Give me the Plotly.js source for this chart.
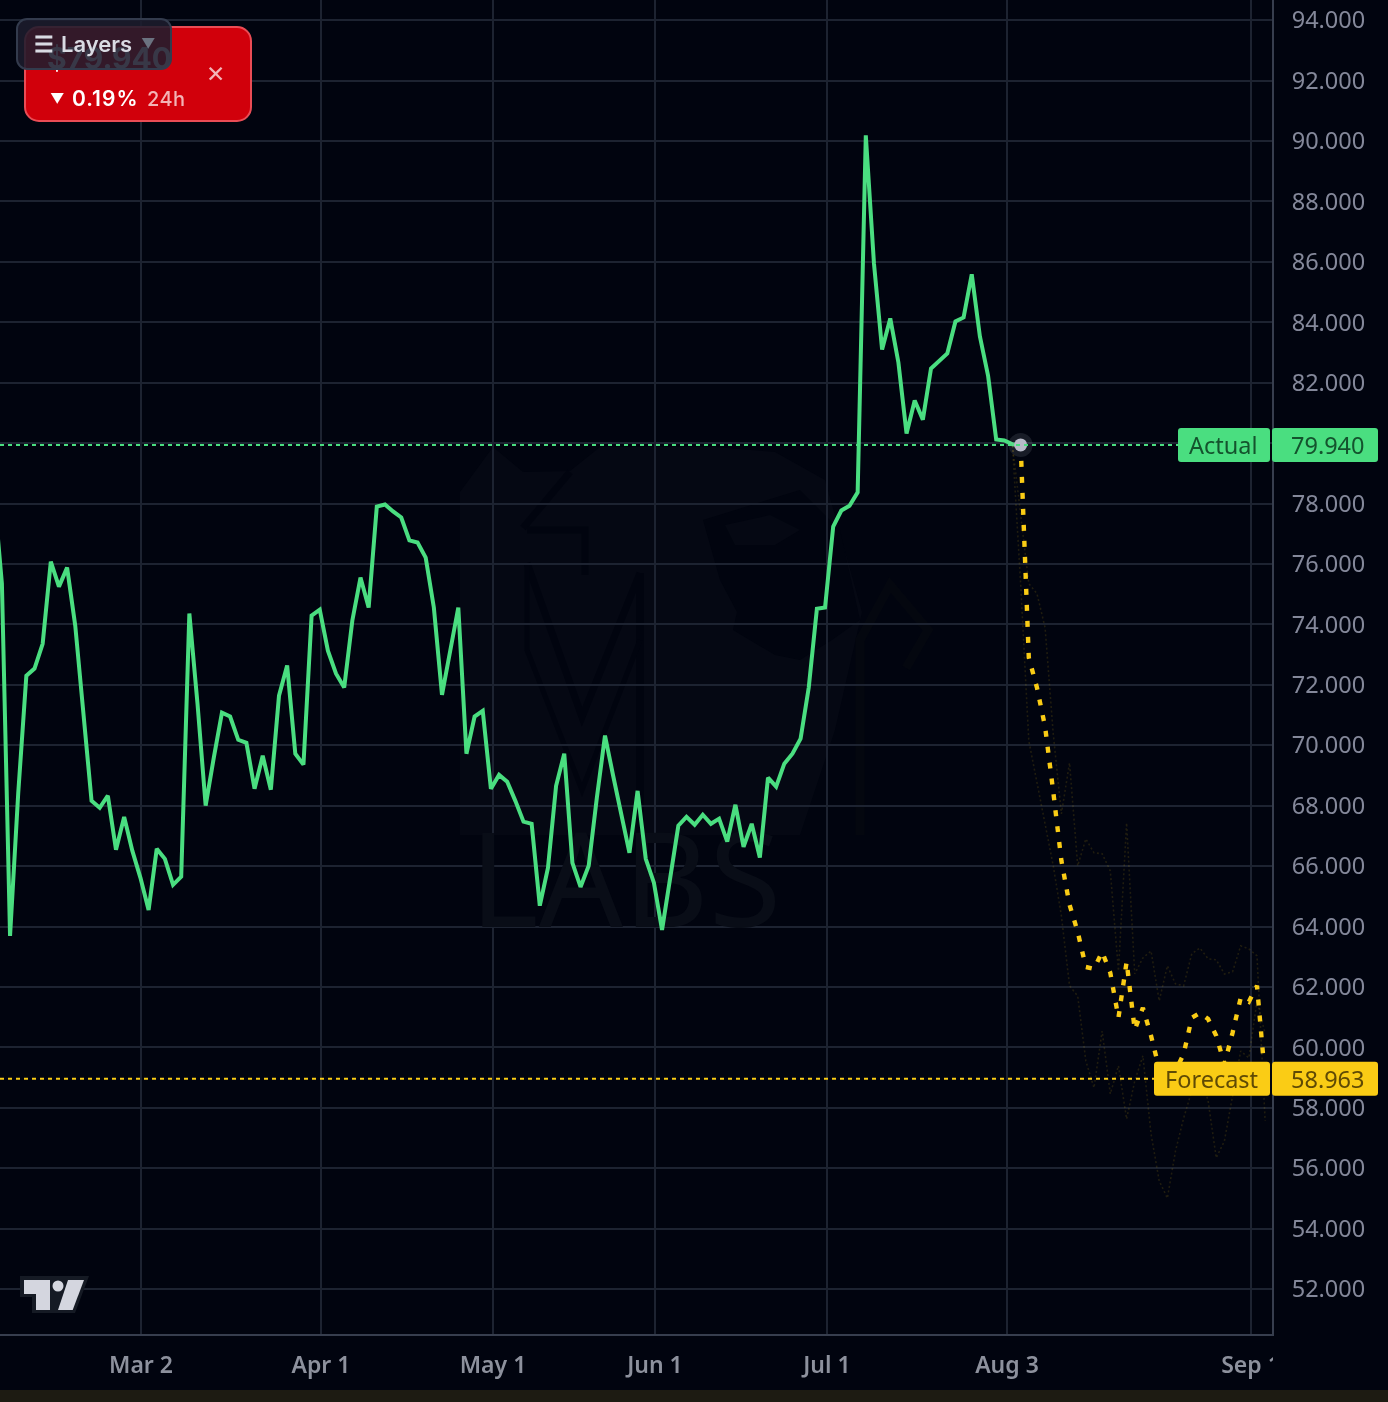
<!DOCTYPE html>
<html><head><meta charset="utf-8">
<script src="https://cdn.plot.ly/plotly-3.0.1.min.js"></script>
<style>
html,body{margin:0;padding:0;background:#01040f;width:1388px;height:1402px;overflow:hidden}
#wrap{position:relative;width:1388px;height:1402px;filter:blur(0.55px)}
#chart{position:absolute;left:0;top:0;width:1388px;height:1402px}
.card{position:absolute;left:24px;top:26px;width:224px;height:92px;background:#d1000b;border:2px solid #ea4c55;border-radius:15px;font-family:Inter,sans-serif;color:#fff;overflow:hidden}
.price{position:absolute;left:21px;top:12px;font-size:30px;font-weight:700;line-height:36px}
.tri{position:absolute;left:24px;top:61px;font-size:14px;line-height:20px;font-weight:600}
.chg{position:absolute;left:46px;top:58px;font-size:21px;font-weight:600;line-height:26px;letter-spacing:1px;white-space:pre}
.h{position:absolute;left:121px;top:58px;font-size:20px;line-height:26px;letter-spacing:.4px;color:#f3b3b6;font-weight:500}
.x{position:absolute;left:180px;top:32px;font-size:23px;line-height:28px;color:#f2b5b8;font-weight:400}
.menu{position:absolute;left:16px;top:18px;width:152px;height:48px;background:rgba(28,28,45,.88);border:2px solid #333b4d;border-radius:11px;font-family:Inter,sans-serif;font-size:22px;font-weight:600;line-height:48px;color:#d9dbe3;white-space:pre}
.menu b{position:absolute;left:16px;top:0;font-weight:600}
.menu i{position:absolute;left:43px;top:0;font-style:normal}
.menu u{position:absolute;left:123px;top:0;text-decoration:none;color:#6b7280;font-size:14px}
svg.tv{position:absolute;left:0;top:1260px;width:100px;height:60px}
</style></head><body>
<div id="wrap">
<div id="chart"></div>
<svg class="tv" viewBox="0 1260 100 60">
<polygon points="20,1276 89,1276 75,1313 32,1313 32,1297 20,1297" fill="#151a24"/>
<polygon points="24,1280 50,1280 50,1310 36,1310 36,1294 24,1294" fill="#d4d6df"/>
<circle cx="58" cy="1286" r="5.5" fill="#d4d6df"/>
<polygon points="68,1280 84,1280 72.7,1310 58,1310" fill="#d4d6df"/>
</svg>
<div class="card">
<div class="price">$79.940</div>
<div class="tri">▼</div>
<div class="chg">0.19%</div>
<div class="h">24h</div>
<div class="x">✕</div>
</div>
<div class="menu"><b>☰</b><i>Layers</i><u>▼</u></div>
</div>
<script>
const actualValues = [78.43,75.35,63.69,68.40,72.30,72.54,73.36,76.08,75.25,75.88,73.96,70.91,68.16,67.93,68.33,66.54,67.63,66.51,65.61,64.55,66.57,66.24,65.38,65.65,74.36,71.38,68.00,69.59,71.08,70.95,70.18,70.08,68.56,69.65,68.53,71.64,72.64,69.72,69.36,74.29,74.49,73.13,72.37,71.91,74.13,75.55,74.56,77.90,77.97,77.74,77.54,76.78,76.71,76.21,74.56,71.67,73.20,74.56,69.72,70.95,71.14,68.56,69.02,68.79,68.16,67.47,67.40,64.69,65.94,68.66,69.72,66.11,65.31,66.01,68.26,70.32,68.99,67.77,66.44,68.49,66.24,65.45,63.89,65.61,67.34,67.63,67.37,67.70,67.40,67.57,66.81,68.03,66.64,67.40,66.28,68.93,68.63,69.39,69.72,70.22,71.91,74.52,74.56,77.24,77.77,77.93,78.37,90.19,85.95,83.10,84.13,82.67,80.32,81.41,80.78,82.47,82.70,82.97,84.03,84.16,85.59,83.53,82.24,80.12,80.09,79.96,79.94];
const forecastValues = [79.94,72.90,71.91,70.61,68.46,66.18,64.72,63.82,62.66,62.60,63.16,62.47,60.98,62.83,60.58,61.31,60.38,59.29,59.05,59.22,59.78,60.98,61.14,60.94,60.38,59.45,60.48,61.64,61.51,62.04,58.963];
const upperValues = [79.92,77.54,75.35,75.02,73.89,70.38,67.73,69.42,66.01,66.90,66.44,66.41,65.84,62.53,67.43,62.43,62.96,63.19,61.54,62.70,62.10,62.04,63.10,63.29,62.93,62.90,62.43,62.50,63.36,63.26,63.03,57.56];
const lowerValues = [79.92,75.35,70.15,68.76,67.34,66.01,64.35,62.04,61.70,59.55,58.66,60.54,58.46,59.39,57.63,58.89,59.72,57.13,55.58,55.01,56.57,57.66,58.56,59.15,58.23,56.34,56.90,58.33,59.88,59.65,61.54,60.45];
const dateTickBars = [18.07,40.15,61.26,81.13,102.23,124.32,154.26];
const dateTickLabels = ['Mar 2','Apr 1','May 1','Jun 1','Jul 1','Aug 3','Sep 1'];
const actualLast = 79.94, forecastLast = 58.963;

const W=1388,H=1402,PW=1272,PH=1334;
const BAR=8.15, FIRST=-0.767*BAR;           // pixel width of one bar; pixel of bar 0
const xRange=[(0-FIRST)/BAR,(PW-FIRST)/BAR];
const yRange=[50.512,94.669];
const px=x=>x/PW, py=y=>1-y/PH;

const bg='#01040f',grid='#1d2331',axis='#373e4e',green='#4ade80',yellow='#facc15';
const idx=(a,s)=>a.map((_,i)=>i+s);

const traces=[
 {x:[77.5],y:[65.07],mode:'text',text:['LABS'],textposition:'middle center',textfont:{family:'Noto Sans, sans-serif',size:132,color:'#090d17'}},
 {x:idx(upperValues,125),y:upperValues,mode:'lines',line:{color:'rgba(250,204,21,0.13)',width:1.6,dash:'2px,2.5px'}},
 {x:idx(lowerValues,125),y:lowerValues,mode:'lines',line:{color:'rgba(250,204,21,0.13)',width:1.6,dash:'2px,2.5px'}},
 {x:idx(forecastValues,126),y:forecastValues,mode:'lines',line:{color:yellow,width:4.4,dash:'6px,10px'}},
 {x:idx(actualValues,0),y:actualValues,mode:'lines',line:{color:green,width:4}},
 {x:[126],y:[actualLast],mode:'markers',marker:{size:24,color:'rgba(200,202,215,0.12)',line:{width:0}}},
 {x:[126],y:[actualLast],mode:'markers',marker:{size:13,color:'#b8bac8',line:{width:0}}}
];

function rr(x0,y0,x1,y1,r){
 return `M${x0+r},${y0} L${x1-r},${y0} Q${x1},${y0} ${x1},${y0+r} L${x1},${y1-r} Q${x1},${y1} ${x1-r},${y1} L${x0+r},${y1} Q${x0},${y1} ${x0},${y1-r} L${x0},${y0+r} Q${x0},${y0} ${x0+r},${y0} Z`;
}
function box(val,x0,x1,color){
 return {type:'path',layer:'above',xref:'paper',yref:'y',xsizemode:'pixel',ysizemode:'pixel',xanchor:0,yanchor:val,
  path:rr(x0,-17,x1,17,3),fillcolor:color,line:{width:0}};
}
function poly(pts,color){
 const d='M'+pts.map(p=>px(p[0])+','+py(p[1])).join(' L')+' Z';
 return {type:'path',layer:'below',xref:'paper',yref:'paper',path:d,fillcolor:color,line:{width:0}};
}
function stroke(pts,color,w){
 const d='M'+pts.map(p=>px(p[0])+','+py(p[1])).join(' L');
 return {type:'path',layer:'below',xref:'paper',yref:'paper',path:d,line:{color:color,width:w}};
}
const wmL='#050813',wmD='#01040f',wmE='#050813';
const shapes=[
 // watermark
 poly([[460,492],[493,447],[523,472],[570,471],[600,447],[640,447],[682,447],[715,447],[775,452],[825,480],[862,612],[835,730],[800,835],[460,835]],wmL),
 stroke([[523,528],[570,472]],wmD,7),
 stroke([[527,530],[585,530],[585,575]],wmD,7),
 stroke([[527,563],[582,717],[640,573]],wmD,7),
 stroke([[640,573],[640,835]],wmD,8),
 stroke([[527,563],[527,650],[582,790],[640,640]],wmD,5),
 poly([[703,520],[720,580],[737,612],[733,630],[775,655],[800,660],[832,640],[860,620],[840,530],[800,490]],wmD),
 poly([[725,525],[770,515],[800,530],[775,545],[735,545]],wmE),
 stroke([[860,835],[860,640],[890,585],[928,630],[906,668]],'#04070f',9),
 // price lines
 {type:'line',layer:'above',xref:'paper',yref:'y',x0:0,x1:px(1178),y0:actualLast,y1:actualLast,line:{color:green,width:2,dash:'4px,4px'}},
 {type:'line',layer:'above',xref:'paper',yref:'y',x0:0,x1:px(1154),y0:forecastLast,y1:forecastLast,line:{color:yellow,width:2,dash:'4px,4px'}},
 // clip the last date label, then the strip at the bottom of the page
 {type:'rect',layer:'above',xref:'paper',yref:'paper',x0:px(1273),x1:px(W),y0:py(1336),y1:py(1390),fillcolor:bg,line:{width:0}},
 {type:'rect',layer:'above',xref:'paper',yref:'paper',x0:0,x1:px(W),y0:py(1390),y1:py(H),fillcolor:'#1d1b12',line:{width:0}},
 // value tags
 box(actualLast,1178,1270,green),
 box(actualLast,1272,1378,green),
 box(forecastLast,1154,1270,yellow),
 box(forecastLast,1272,1378,yellow)
];
function tag(t,val,right,color){
 return {text:t,xref:'paper',yref:'y',x:px(right),y:val,xanchor:'right',yanchor:'middle',showarrow:false,borderpad:0,
  font:{family:'Noto Sans, sans-serif',size:23.5,color:color}};
}
const annotations=[
 tag('Actual',actualLast,1259,'#14532d'),
 tag('79.940',actualLast,1366,'#14532d'),
 tag('Forecast',forecastLast,1259,'#5f4a05'),
 tag('58.963',forecastLast,1366,'#5f4a05')
];
const layout={
 width:W,height:H,margin:{l:0,r:W-PW,t:0,b:H-PH,pad:0},
 paper_bgcolor:bg,plot_bgcolor:'rgba(0,0,0,0)',showlegend:false,hovermode:false,
 xaxis:{range:xRange,tickmode:'array',tickvals:dateTickBars,ticktext:dateTickLabels,showgrid:true,gridcolor:grid,gridwidth:2,
  zeroline:false,showline:true,linecolor:axis,linewidth:2,ticks:'',ticklabelstandoff:9,
  tickfont:{family:'Noto Sans, sans-serif',size:23,color:'#8d919d',weight:600}},
 yaxis:{range:yRange,side:'right',tick0:0,dtick:2,tickformat:'.3f',showgrid:true,gridcolor:grid,gridwidth:2,
  zeroline:false,showline:true,linecolor:axis,linewidth:2,ticks:'',ticklabelstandoff:13,
  tickfont:{family:'Noto Sans, sans-serif',size:23.5,color:'#84889a'}},
 shapes,annotations
};
Plotly.newPlot('chart',traces,layout,{displayModeBar:false,staticPlot:true});
</script>
</body></html>
